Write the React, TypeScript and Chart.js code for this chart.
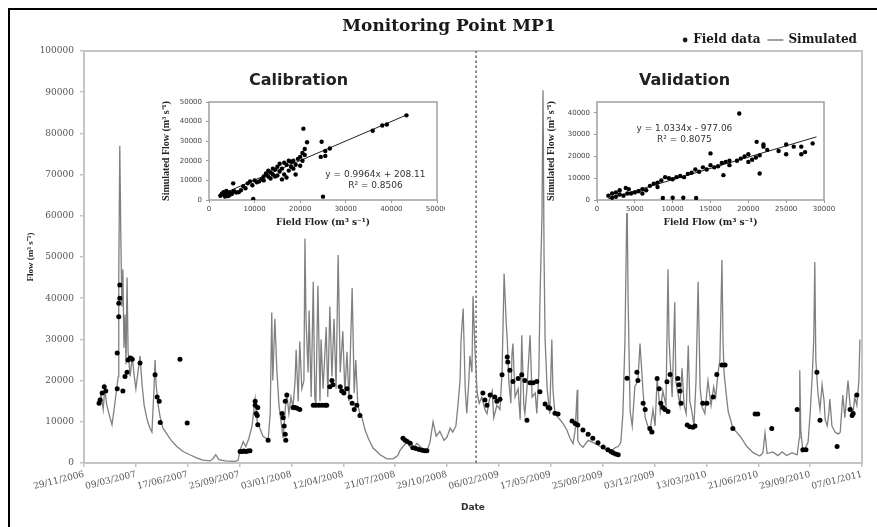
import React, { useEffect, useRef } from "react";
import { Chart, registerables } from "chart.js";
Chart.register(...registerables);

// ---------- main hydrograph data ----------
const chartTitle = "Monitoring Point MP1";
const seriesNames = ["Field data", "Simulated"];
const xTickLabels = [
  "29/11/2006", "09/03/2007", "17/06/2007", "25/09/2007", "03/01/2008", "12/04/2008",
  "21/07/2008", "29/10/2008", "06/02/2009", "17/05/2009", "25/08/2009", "03/12/2009",
  "13/03/2010", "21/06/2010", "29/09/2010", "07/01/2011",
];
// days counted from 29/11/2006
const simDays = [
  29, 33, 37, 40, 44, 48, 54, 58, 62, 66, 67, 69, 71, 73, 75, 77, 79, 81, 83, 85, 89, 93, 96, 100, 104, 108, 112, 116, 120, 123, 127, 131, 135, 137, 139, 143, 147, 152, 160, 168, 179, 191, 204, 218, 229, 243, 249, 254, 260, 272, 291,
  297, 301, 307, 312, 318, 324, 330, 334, 339, 345, 351, 355, 359, 362, 364, 368, 372, 376, 380, 384, 388, 391, 395, 399, 403, 407, 409, 413, 416, 420, 424, 426, 428, 432, 434, 438, 442, 445, 447, 451, 455, 457, 461, 467, 470, 474, 478, 482, 486, 490, 494, 499, 503, 507, 511, 517, 521, 524, 528, 532, 536, 542, 548, 557, 571, 584, 596, 605, 609, 615, 623, 629, 634, 642, 648, 656, 661, 667, 673, 679, 686, 694, 700, 706, 711, 717, 721, 725, 727, 731, 735, 738, 742, 744, 748, 750, 754, 758,
  762, 767, 773, 777, 781, 787, 790, 796, 802, 806, 810, 814, 816, 819, 823, 825, 827, 831, 837, 841, 844, 848, 850, 854, 860, 864, 870, 873, 877, 879, 883, 885, 887, 889, 893, 898, 902, 904, 908, 914, 918, 924, 931, 937, 943, 947, 951, 952, 956, 962, 972, 981, 989, 995, 1003, 1008, 1014, 1020, 1025, 1030, 1035, 1039, 1043, 1047, 1049, 1053, 1057, 1062, 1068, 1072, 1078, 1082, 1087, 1091, 1097, 1101, 1105, 1111, 1116, 1122, 1126, 1128, 1130, 1134, 1139, 1141, 1145, 1149, 1153, 1157, 1161, 1165, 1168, 1172, 1176, 1180, 1184, 1188, 1192, 1197, 1203, 1209, 1214, 1218, 1222, 1226, 1230, 1232, 1234, 1238, 1242, 1251, 1265, 1278, 1290, 1303, 1309, 1313, 1317, 1328, 1338, 1346, 1355, 1365, 1375, 1379, 1380, 1382, 1386, 1392, 1396, 1400, 1404, 1407, 1409, 1411, 1415, 1419, 1423, 1427, 1429, 1433, 1436, 1438, 1442, 1448, 1454, 1458, 1463, 1467, 1473, 1477, 1483, 1486, 1490, 1494, 1496,
];
const simFlow = [
  15000, 16500, 13000, 18000, 14000, 12000, 9300, 13000, 17000, 21000, 45000, 77000, 55000, 38000, 47000, 28000, 36000, 24000, 45000, 27000, 21000, 26000, 22000, 18000, 22000, 26000, 19000, 14000, 11500, 10000, 8500, 7500, 18000, 25000, 19000, 14000, 11000, 8500, 7000, 5500, 4000, 2800, 2000, 1200, 700, 500, 1100, 2000, 800, 500, 400,
  600, 3200, 5200, 4000, 6000, 9000, 15500, 10000, 8500, 6500, 6000, 5500, 12000, 36500, 20000, 35000, 22000, 14000, 10000, 6000, 13000, 17000, 12000, 16000, 13500, 20000, 27500, 15000, 29500, 18000, 20000, 54500, 35000, 22000, 37000, 16000, 44000, 16000, 14000, 43000, 15000, 30000, 18000, 33000, 16000, 38000, 21000, 35000, 18000, 50500, 22000, 32000, 17000, 27000, 15000, 42500, 17000, 25000, 14000, 12000, 11000, 8000, 6000, 3700, 2000, 1000, 1000, 1800, 3000, 4000, 5000, 3800, 3500, 4800, 4000, 3200, 2800, 5000, 10000, 6500, 7700, 5500, 6300, 8500, 7500, 9000, 14000, 20000, 30000, 37500, 18000, 12000, 20000, 26000, 22000, 40500, 27000, 17000,
  14500, 16000, 13000, 12000, 15000, 17500, 11000, 14000, 13000, 22000, 46000, 34000, 30000, 20000, 14500, 26000, 29000, 16000, 18000, 10500, 31000, 14000, 12000, 18000, 31000, 16000, 17000, 12000, 22000, 39000, 60000, 90500, 50000, 30000, 18000, 12000, 30000, 18000, 12000, 11000, 10500, 9500, 8000, 6000, 4700, 8000, 17800, 5500, 4500, 3800, 5500, 5000, 4500, 4000, 3500, 3000, 2600, 3300, 3800, 4000, 5000, 12000, 30000, 66000, 40000, 12500, 9000, 18500, 20000, 29000, 17000, 11000, 9000, 7500, 13000, 9000, 20500, 12500, 17500, 14000, 47000, 30000, 25000, 16000, 39000, 20000, 17000, 14000, 23000, 14000, 12000, 28500, 15000, 12500, 9000, 20000, 44000, 18000, 13500, 12000, 20000, 14000, 18500, 16000, 21500, 25000, 49300, 30000, 22000, 17000, 12500, 8500, 6500, 4000, 2500, 1700, 2500, 7300, 2300, 2700, 1800, 2700, 1800, 2500, 2000, 6000, 22500, 8000, 2800, 4000, 5000, 12000, 21000, 30000, 48800, 25000, 17000, 13000, 19000, 15000, 10500, 9000, 12000, 15500, 9000, 7500, 7000, 7500, 16500, 11000, 20000, 14000, 12500, 16000, 14000, 20000, 30000,
];
const fieldDays = [
  29, 31, 35, 39, 42, 64, 64, 67, 67, 69, 69, 75, 79, 83, 85, 89, 93, 108, 137, 141, 145, 147, 185, 199,
  301, 305, 308, 312, 316, 320, 330, 330, 332, 334, 335, 335, 355, 382, 384, 386, 388, 389, 388, 391, 403, 407, 411, 416, 442, 447, 453, 459, 465, 468, 474, 478, 480, 494, 497, 501, 507, 513, 517, 521, 526, 532,
  615, 619, 623, 629, 634, 640, 646, 652, 657, 661,
  769, 773, 777, 783, 792, 796, 802, 806, 816, 817, 821, 827, 837, 844, 850, 854, 860, 866, 873, 879, 889, 895, 898, 908, 914, 941, 947, 952, 962, 972, 981, 991, 1001, 1010, 1016, 1020, 1025, 1030,
  1047, 1066, 1068, 1078, 1082, 1091, 1095, 1105, 1109, 1112, 1116, 1120, 1124, 1126, 1130, 1145, 1147, 1149, 1151, 1163, 1168, 1174, 1178, 1193, 1201, 1213, 1220, 1230, 1236, 1251, 1294, 1299, 1326, 1375, 1386, 1392, 1413, 1419, 1452, 1477, 1481, 1483, 1490,
];
const fieldFlow = [
  14500, 15300, 17000, 18500, 17500, 18000, 26700, 38800, 35500, 43200, 40000, 17500, 21000, 22000, 25000, 25500, 25200, 24300, 21400, 16000, 15000, 9800, 25200, 9700,
  2800, 2800, 2900, 2800, 2900, 3000, 15000, 14000, 12000, 11500, 13500, 9300, 5500, 12000, 11000, 9000, 7000, 5500, 15000, 16500, 13500, 13500, 13300, 13000, 14000, 14000, 14000, 14000, 14000, 14000, 18500, 20000, 19000, 18500, 17500, 17000, 18000, 16000, 14500, 13000, 14000, 11500,
  6000, 5500, 5200, 4800, 3700, 3500, 3300, 3100, 3000, 3000,
  17000, 15300, 14000, 16500, 16000, 15000, 15500, 21400, 25700, 24500, 22500, 19800, 20500, 21400, 20000, 10400, 19500, 19500, 19800, 17300, 14300, 13500, 13300, 12100, 11900, 10200, 9600, 9200, 8000, 7000, 6000, 4900, 3900, 3200, 2800, 2500, 2200, 2000,
  20600, 22000, 20000, 14500, 13000, 8400, 7500, 20500, 18000, 14500, 13500, 13000, 19700, 12500, 21500, 20500, 19000, 17500, 14500, 9200, 8800, 8700, 9000, 14500, 14500, 16000, 21500, 23800, 23800, 8400, 11900, 11900, 8400, 13000, 3200, 3200, 22000, 10400, 4000, 13000, 11500, 12000, 16500,
];
const splitDay = 756; // calibration | validation boundary

// ---------- inset: calibration ----------
const calibField = [
  2500, 2800, 3000, 3200, 3500, 3600, 4000, 4200, 4500, 4800, 5000, 5300, 5500, 6000, 6500, 7000, 3800, 4400,
  5300, 7500, 8000, 8500, 9000, 9500, 10000, 10500, 11000, 11500, 12000, 12000, 12500, 13000, 13000, 13500, 13500, 14000, 14000, 14500, 14500, 15000, 15000, 15500, 15500, 16000, 16000, 16500, 16500, 17000, 17000, 17500, 17500, 18000, 18000, 18500, 18500, 19000, 19000, 19500, 20000, 20000, 20500, 20500, 21000, 21500, 21000,
  20700, 9700, 25000, 24700, 25500, 24500, 25500, 26500, 35900, 38000, 39000, 43300,
];
const calibSim = [
  2200, 3200, 3000, 4000, 1800, 2600, 3500, 2000, 2500, 3300, 3000, 4200, 4500, 3800, 4000, 5000, 4600, 3900,
  8500, 7000, 6000, 8500, 9500, 7500, 10000, 9000, 9500, 10500, 10000, 12000, 13500, 12000, 15000, 14000, 11000, 13000, 16000, 15500, 12000, 12500, 17000, 14500, 18500, 16000, 10500, 13000, 19000, 18000, 11500, 15000, 20000, 17000, 19500, 20000, 16000, 18000, 13000, 21000, 22000, 17500, 24000, 20000, 26000, 29500, 23000,
  36400, 500, 1700, 29700, 25000, 22000, 22500, 26300, 35300, 38000, 38500, 43200,
];
const calibFit = { slope: 0.9964, intercept: 208.11, r2: 0.8506, from: 2000, to: 43500 };

// ---------- inset: validation ----------
const validField = [
  1500, 2000, 2000, 2500, 2500, 3000, 3000, 3500, 3800, 4000, 4200, 4500, 5000, 5500, 6000, 6000, 6500, 7000, 7500, 8000, 8000, 8500, 9000, 9500, 10000, 10500, 11000, 11500, 12000, 12500, 13000, 13500, 14000, 14500, 15000, 15500, 16000, 16500, 17000, 17500, 17500, 18500, 19000, 19500, 20000, 20000, 20500, 21000, 21500, 22000, 22500, 24000, 25000, 26000, 27000, 27500, 28500, 27000,
  18800, 15000, 8700, 10000, 11400, 13100, 16700, 21500, 21100, 22000, 25000,
];
const validSim = [
  2000, 1000, 3000, 3500, 1500, 2500, 4500, 2000, 5500, 3000, 5000, 3000, 3500, 4000, 5000, 3000, 4500, 6500, 7500, 6000, 8000, 9000, 10500, 10000, 9500, 10500, 11000, 10500, 12000, 12500, 14000, 13000, 15000, 14000, 16000, 15000, 15500, 17000, 17500, 16000, 18000, 18000, 19000, 20000, 21000, 17500, 18500, 19500, 20500, 24500, 23000, 22500, 21000, 24500, 24500, 22000, 26000, 21000,
  39700, 21400, 900, 1000, 1000, 900, 11400, 12200, 26700, 25500, 25500,
];
const validFit = { slope: 1.0334, intercept: -977.06, r2: 0.8075, from: 1500, to: 29000 };

// ---------- plugins ----------
const framePlugin = {
  id: "frame",
  beforeDraw(chart: any, _a: any, opts: any) {
    if (!opts || opts.whiteBelow == null) return;
    const { ctx, chartArea } = chart;
    ctx.save();
    ctx.fillStyle = "#ffffff";
    ctx.fillRect(0, 0, chart.width, chartArea.bottom + opts.whiteBelow);
    ctx.restore();
  },
  beforeDatasetsDraw(chart: any, _a: any, opts: any) {
    const { ctx, chartArea: c } = chart;
    ctx.save();
    ctx.strokeStyle = opts.color || "#bbb";
    ctx.lineWidth = opts.width || 1.5;
    ctx.strokeRect(c.left, c.top, c.right - c.left, c.bottom - c.top);
    ctx.restore();
  },
};

const headerPlugin = {
  id: "header",
  afterDraw(chart: any, _a: any, opts: any) {
    const ctx = chart.ctx;
    ctx.save();
    ctx.fillStyle = "#1a1a1a";
    ctx.textBaseline = "middle";
    ctx.textAlign = "center";
    ctx.font = 'bold 17px "DejaVu Serif"';
    ctx.fillText(opts.title, opts.titleX, opts.titleY);
    ctx.font = 'bold 12px "DejaVu Serif"';
    ctx.textAlign = "right";
    const y = opts.legendY;
    let x = opts.legendRight;
    ctx.fillText(seriesNames[1], x, y);
    x -= ctx.measureText(seriesNames[1]).width + 5;
    ctx.strokeStyle = "#808080";
    ctx.lineWidth = 1.5;
    ctx.beginPath();
    ctx.moveTo(x - 16, y);
    ctx.lineTo(x, y);
    ctx.stroke();
    x -= 16 + 7;
    ctx.fillText(seriesNames[0], x, y);
    x -= ctx.measureText(seriesNames[0]).width + 8;
    ctx.beginPath();
    ctx.arc(x, y, 2.4, 0, Math.PI * 2);
    ctx.fill();
    ctx.restore();
  },
};

const eqPlugin = {
  id: "eq",
  afterDatasetsDraw(chart: any, _a: any, opts: any) {
    if (!opts || !opts.lines) return;
    const { ctx, chartArea: c } = chart;
    ctx.save();
    ctx.fillStyle = "#333";
    ctx.font = '9px "DejaVu Sans"';
    ctx.textAlign = "center";
    ctx.textBaseline = "middle";
    opts.lines.forEach((t: string, i: number) => {
      ctx.fillText(t, c.left + opts.fx * (c.right - c.left), c.top + opts.fy[i] * (c.bottom - c.top));
    });
    ctx.restore();
  },
};

function fmtNum(v: number) {
  return String(v);
}

function insetConfig(
  title: string,
  field: number[],
  sim: number[],
  fit: { slope: number; intercept: number; r2: number; from: number; to: number },
  xMax: number,
  xStep: number,
  yMax: number,
  yAxisWidth: number,
  padRight: number,
  eqPos: { fx: number; fy: number[] }
): any {
  const pts = field.map((f, i) => ({ x: f, y: sim[i] }));
  const line = [fit.from, fit.to].map((f) => ({ x: f, y: fit.slope * f + fit.intercept }));
  const sign = fit.intercept < 0 ? "-" : "+";
  const eq = `y = ${fit.slope}x ${sign} ${Math.abs(fit.intercept)}`;
  return {
    type: "scatter",
    data: {
      datasets: [
        { label: "Points", data: pts, pointRadius: 2.2, pointHoverRadius: 2.2, backgroundColor: "#000", borderWidth: 0, order: 0 },
        { label: "Trend", data: line, showLine: true, pointRadius: 0, borderColor: "#222", borderWidth: 1, order: 1 },
      ],
    },
    options: {
      animation: false,
      responsive: true,
      maintainAspectRatio: false,
      events: [],
      layout: { padding: { left: 0, right: padRight, top: 0, bottom: 0 } },
      plugins: {
        legend: { display: false },
        tooltip: { enabled: false },
        title: {
          display: true,
          text: title,
          color: "#222",
          font: { family: "DejaVu Sans", size: 16, weight: "bold" },
          padding: { top: 5.4, bottom: 11.4 },
        },
        frame: { color: "#a0a0a0", width: 1.5, whiteBelow: 13 },
        eq: { lines: [eq, `R² = ${fit.r2}`], fx: eqPos.fx, fy: eqPos.fy },
      },
      scales: {
        x: {
          type: "linear",
          min: 0,
          max: xMax,
          ticks: { stepSize: xStep, autoSkip: false, maxRotation: 0, minRotation: 0, padding: 2, color: "#444", font: { family: "DejaVu Sans", size: 7 }, callback: (v: any) => fmtNum(v) },
          grid: { drawOnChartArea: false, tickLength: 3, color: "#999" },
          border: { display: false },
          title: { display: true, text: "Field Flow (m³ s⁻¹)", color: "#222", font: { family: "DejaVu Serif", size: 9, weight: "bold" }, padding: { top: 0, bottom: 3.6 } },
          afterFit: (s: any) => { s.height = 32; s.paddingLeft = 0; s.paddingRight = 0; },
        },
        y: {
          min: 0,
          max: yMax,
          ticks: { stepSize: 5000, maxTicksLimit: 20, padding: 4, color: "#444", font: { family: "DejaVu Sans", size: 7 }, callback: (v: any) => fmtNum(v) },
          grid: { drawOnChartArea: false, tickLength: 3, color: "#999" },
          border: { display: false },
          title: { display: true, text: "Simulated Flow (m³ s⁻¹)", color: "#222", font: { family: "Liberation Serif", size: 10, weight: "bold" }, padding: { top: 0, bottom: 0 } },
          afterFit: (s: any) => { s.width = yAxisWidth; s.paddingTop = 0; s.paddingBottom = 0; },
        },
      },
    },
    plugins: [framePlugin, eqPlugin],
  };
}

export default function App() {
  const mainRef = useRef<HTMLCanvasElement>(null);
  const calRef = useRef<HTMLCanvasElement>(null);
  const valRef = useRef<HTMLCanvasElement>(null);

  useEffect(() => {
    const simPts = simDays.map((d, i) => ({ x: d, y: simFlow[i] }));
    const fieldPts = fieldDays.map((d, i) => ({ x: d, y: fieldFlow[i] }));
    const main = new Chart(mainRef.current as HTMLCanvasElement, {
      type: "scatter",
      data: {
        datasets: [
          { label: seriesNames[0], data: fieldPts, pointRadius: 2.5, pointHoverRadius: 2.5, backgroundColor: "#000", borderWidth: 0, order: 0 },
          { label: seriesNames[1], data: simPts, showLine: true, pointRadius: 0, borderColor: "#808080", borderWidth: 1.3, order: 1 },
          { label: "Split", data: [{ x: splitDay, y: 0 }, { x: splitDay, y: 100000 }], showLine: true, pointRadius: 0, borderColor: "#6e6e6e", borderWidth: 1.6, borderDash: [2.5, 2.5], order: 2 },
        ],
      },
      options: {
        animation: false,
        responsive: true,
        maintainAspectRatio: false,
        events: [],
        layout: { padding: { left: 0, right: 15, top: 51, bottom: 0 } },
        plugins: {
          legend: { display: false },
          tooltip: { enabled: false },
          frame: { color: "#c4c4c4", width: 2 },
          header: { title: chartTitle, titleX: 449, titleY: 27, legendRight: 857, legendY: 40 },
        } as any,
        scales: {
          x: {
            type: "linear",
            min: 0,
            max: 1500,
            ticks: {
              stepSize: 100,
              autoSkip: false,
              maxTicksLimit: 20,
              minRotation: 14,
              maxRotation: 14,
              padding: 2,
              color: "#555",
              font: { family: "DejaVu Serif", size: 9 },
              callback: (v: any) => xTickLabels[Math.round(Number(v) / 100)] ?? "",
            },
            grid: { drawOnChartArea: false, tickLength: 4, color: "#c4c4c4", lineWidth: 1.5 },
            border: { display: false },
            title: { display: true, text: "Date", color: "#333", font: { family: "DejaVu Sans", size: 9, weight: "bold" }, padding: { top: 0, bottom: 13.6 } },
            afterFit: (s: any) => { s.height = 64; s.paddingLeft = 0; s.paddingRight = 0; },
          },
          y: {
            min: 0,
            max: 100000,
            ticks: { stepSize: 10000, padding: 6, color: "#555", font: { family: "DejaVu Serif", size: 9 }, callback: (v: any) => fmtNum(v) },
            grid: { drawOnChartArea: false, tickLength: 4, color: "#c4c4c4", lineWidth: 1.5 },
            border: { display: false },
            title: { display: true, text: "Flow (m³ s⁻¹)", color: "#222", font: { family: "Liberation Serif", size: 9, weight: "bold" }, padding: { top: 25, bottom: 0 } },
            afterFit: (s: any) => { s.width = 84; s.paddingTop = 0; s.paddingBottom = 0; },
          },
        },
      },
      plugins: [framePlugin, headerPlugin],
    } as any);

    const cal = new Chart(
      calRef.current as HTMLCanvasElement,
      insetConfig("Calibration", calibField, calibSim, calibFit, 50000, 10000, 50000, 49, 8, { fx: 0.73, fy: [0.745, 0.857] })
    );
    const val = new Chart(
      valRef.current as HTMLCanvasElement,
      insetConfig("Validation", validField, validSim, validFit, 30000, 5000, 45000, 52, 11, { fx: 0.385, fy: [0.276, 0.388] })
    );
    return () => {
      main.destroy();
      cal.destroy();
      val.destroy();
    };
  }, []);

  return (
    <div style={{ position: "fixed", left: 0, top: 0, width: 877, height: 527, background: "#fff", overflow: "hidden" }}>
      <div style={{ position: "absolute", left: 0, top: 0, width: 877, height: 527 }}>
        <canvas ref={mainRef} />
      </div>
      <div style={{ position: "absolute", left: 160, top: 66, width: 285, height: 166 }}>
        <canvas ref={calRef} />
      </div>
      <div style={{ position: "absolute", left: 545, top: 66, width: 290, height: 166 }}>
        <canvas ref={valRef} />
      </div>
      <div
        style={{
          position: "absolute",
          left: 8,
          top: 8,
          width: 900,
          height: 540,
          borderLeft: "2px solid #000",
          borderTop: "2px solid #000",
          pointerEvents: "none",
        }}
      />
    </div>
  );
}
